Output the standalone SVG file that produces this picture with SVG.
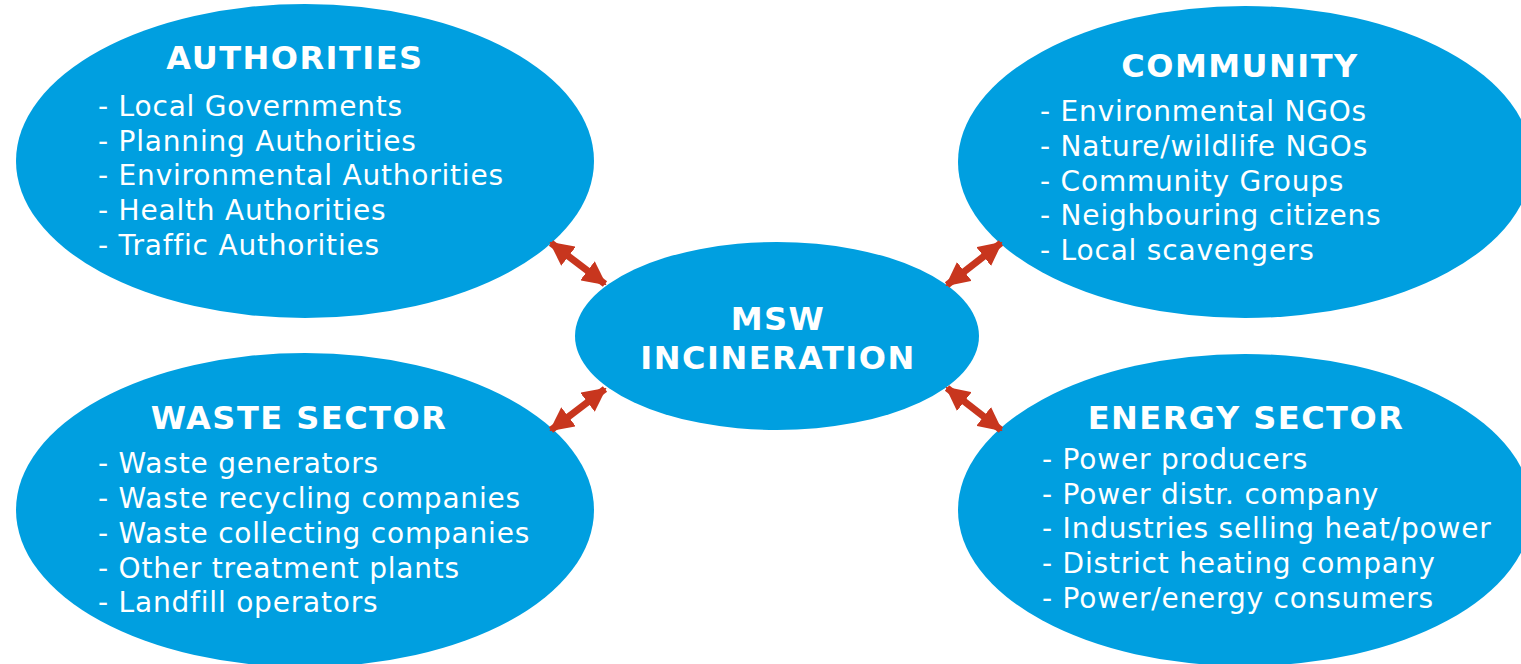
<svg xmlns="http://www.w3.org/2000/svg" width="1521" height="664" viewBox="0 0 1521 664">
<style>
.node{fill:#009FE0}
.t{fill:#fff;font-family:"DejaVu Sans","Verdana",sans-serif;font-weight:bold;font-size:32px;letter-spacing:1.5px;text-anchor:middle}
.i{fill:#fff;font-family:"DejaVu Sans","Verdana",sans-serif;font-size:28px;letter-spacing:0.8px}
.c{stroke:#C8361E;stroke-width:7;fill:none}
</style>
<defs>
<marker id="ah" markerUnits="userSpaceOnUse" markerWidth="24" markerHeight="24" refX="22" refY="12" orient="auto-start-reverse">
<path d="M0,0 L24,12 L0,24 Z" fill="#C8361E"/>
</marker>
</defs>
<rect width="1521" height="664" fill="#fff"/>
<g id="authorities">
<ellipse class="node" cx="305" cy="161" rx="289" ry="157"/>
<text class="t" x="295" y="69">AUTHORITIES</text>
<text class="i" x="98" y="116">- Local Governments</text>
<text class="i" x="98" y="151">- Planning Authorities</text>
<text class="i" x="98" y="185">- Environmental Authorities</text>
<text class="i" x="98" y="220">- Health Authorities</text>
<text class="i" x="98" y="255">- Traffic Authorities</text>
</g>
<g id="community">
<ellipse class="node" cx="1245" cy="162" rx="287" ry="156"/>
<text class="t" x="1240" y="77">COMMUNITY</text>
<text class="i" x="1040" y="121">- Environmental NGOs</text>
<text class="i" x="1040" y="156">- Nature/wildlife NGOs</text>
<text class="i" x="1040" y="191">- Community Groups</text>
<text class="i" x="1040" y="225">- Neighbouring citizens</text>
<text class="i" x="1040" y="260">- Local scavengers</text>
</g>
<g id="msw">
<ellipse class="node" cx="777" cy="336" rx="202" ry="94"/>
<text class="t" x="778" y="330">MSW</text>
<text class="t" x="778" y="369">INCINERATION</text>
</g>
<g id="waste">
<ellipse class="node" cx="305" cy="510" rx="289" ry="157"/>
<text class="t" x="299" y="429">WASTE SECTOR</text>
<text class="i" x="98" y="473">- Waste generators</text>
<text class="i" x="98" y="508">- Waste recycling companies</text>
<text class="i" x="98" y="543">- Waste collecting companies</text>
<text class="i" x="98" y="578">- Other treatment plants</text>
<text class="i" x="98" y="612">- Landfill operators</text>
</g>
<g id="energy">
<ellipse class="node" cx="1245" cy="510" rx="287" ry="156"/>
<text class="t" x="1246" y="429">ENERGY SECTOR</text>
<text class="i" x="1042" y="469">- Power producers</text>
<text class="i" x="1042" y="504">- Power distr. company</text>
<text class="i" x="1042" y="538">- Industries selling heat/power</text>
<text class="i" x="1042" y="573">- District heating company</text>
<text class="i" x="1042" y="608">- Power/energy consumers</text>
</g>
<g id="connectors">
<line class="c" x1="551" y1="243" x2="605" y2="284" marker-start="url(#ah)" marker-end="url(#ah)"/>
<line class="c" x1="1001" y1="243" x2="947" y2="285" marker-start="url(#ah)" marker-end="url(#ah)"/>
<line class="c" x1="605" y1="389" x2="551" y2="430" marker-start="url(#ah)" marker-end="url(#ah)"/>
<line class="c" x1="947" y1="388" x2="1001" y2="430" marker-start="url(#ah)" marker-end="url(#ah)"/>
</g>
</svg>
